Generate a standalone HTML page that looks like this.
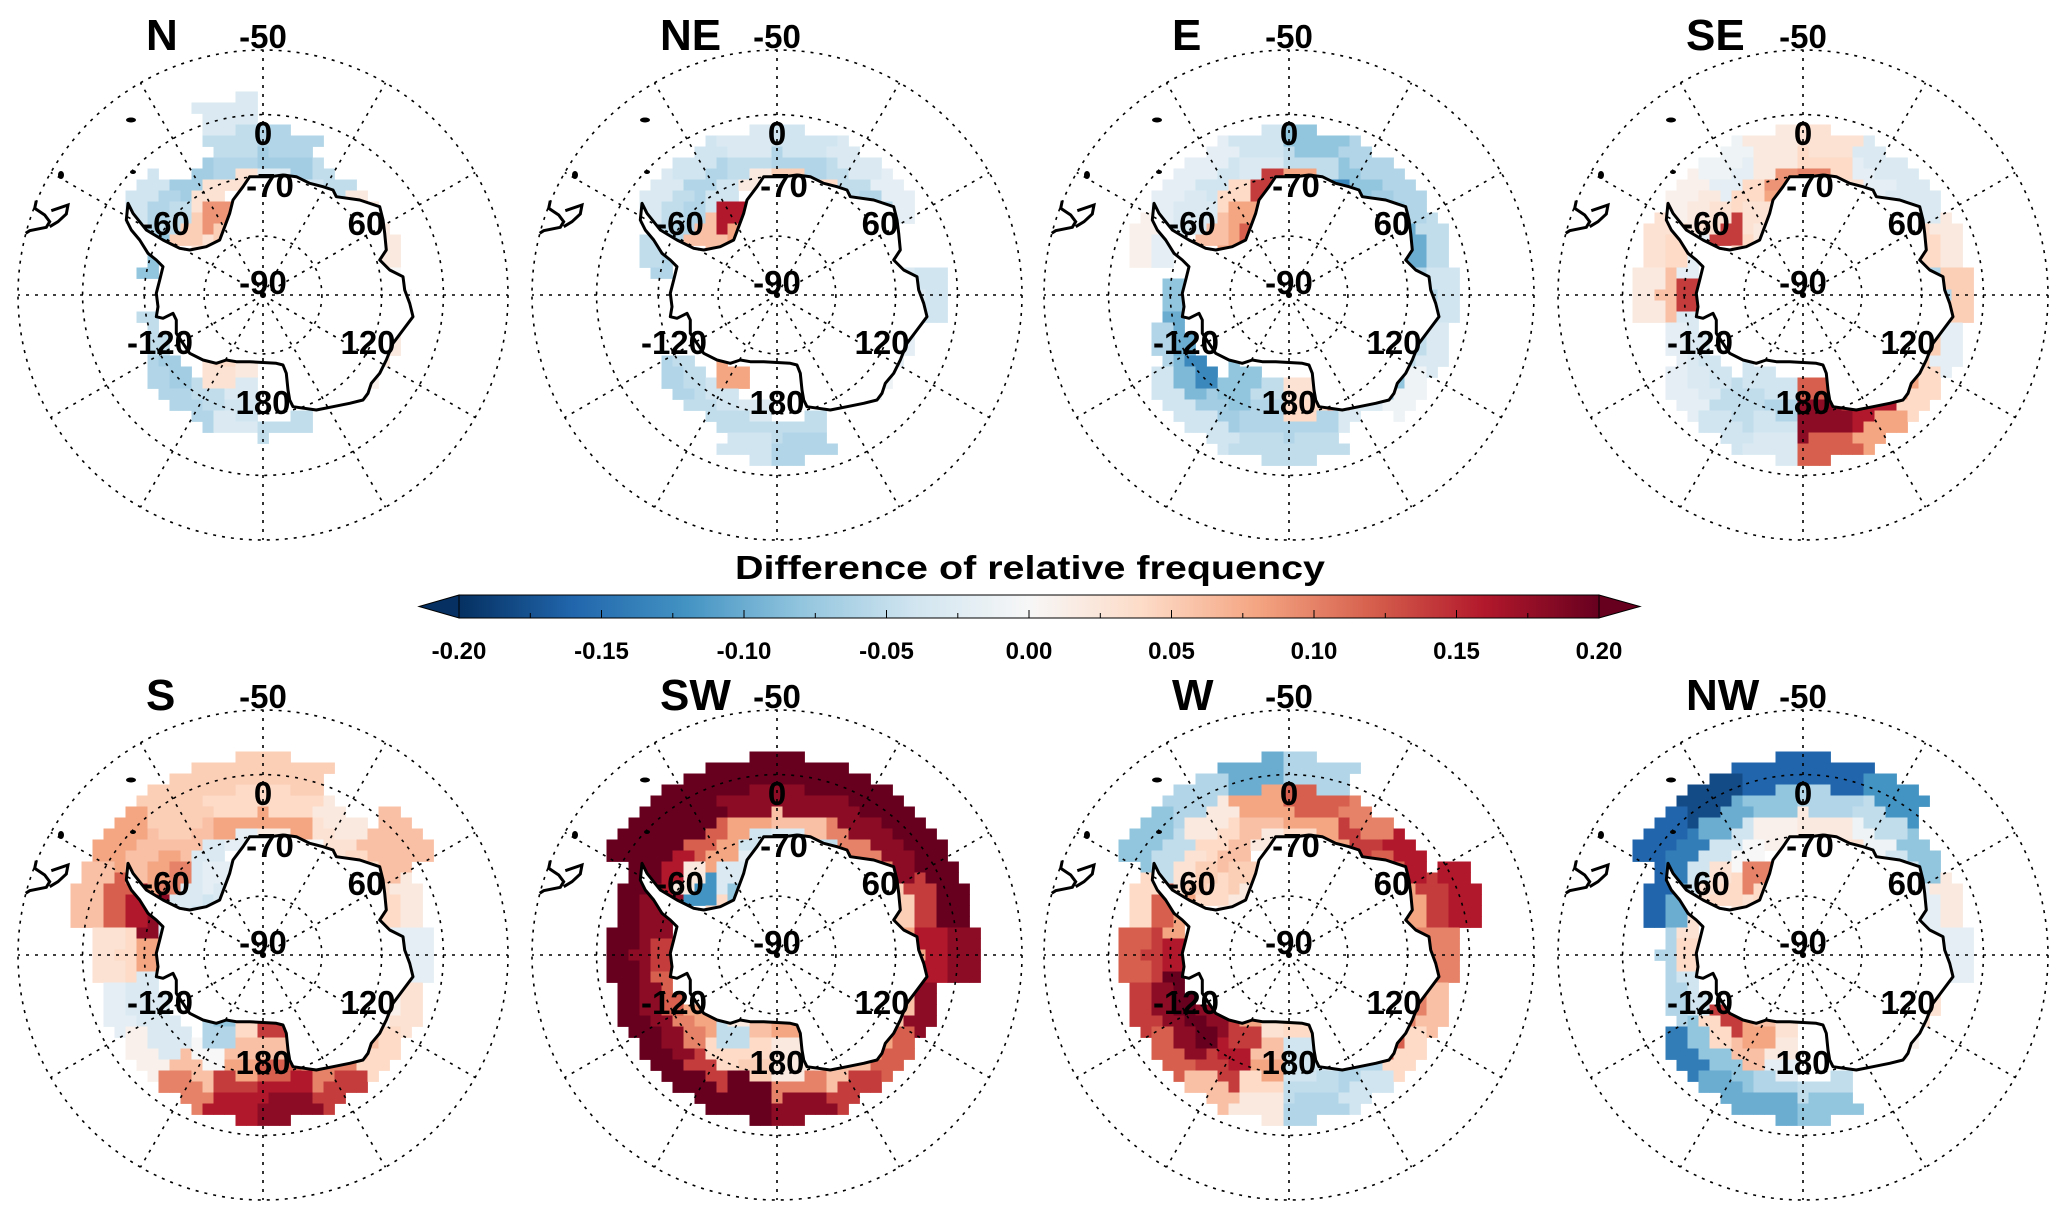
<!DOCTYPE html>
<html><head><meta charset="utf-8"><title>Difference of relative frequency</title>
<style>
html,body{margin:0;padding:0;background:#fff;}
svg{display:block;font-family:"Liberation Sans",Arial,sans-serif;}
</style></head>
<body>
<svg id="fig" width="2067" height="1219" viewBox="0 0 2067 1219" xmlns="http://www.w3.org/2000/svg">
<defs>
<linearGradient id="cbgrad" x1="0" x2="1" y1="0" y2="0">
<stop offset="0" stop-color="#053061"/><stop offset="0.1" stop-color="#2166ac"/><stop offset="0.2" stop-color="#4393c3"/><stop offset="0.3" stop-color="#92c5de"/><stop offset="0.4" stop-color="#d1e5f0"/><stop offset="0.5" stop-color="#f7f7f7"/><stop offset="0.6" stop-color="#fddbc7"/><stop offset="0.7" stop-color="#f4a582"/><stop offset="0.8" stop-color="#d6604d"/><stop offset="0.9" stop-color="#b2182b"/><stop offset="1" stop-color="#67001f"/>
</linearGradient>
</defs>
<g id="panels"></g>
<g id="colorbar">
<text x="1030" y="579" text-anchor="middle" font-size="33" font-weight="bold" textLength="590" lengthAdjust="spacingAndGlyphs">Difference of relative frequency</text>
<polygon points="459,595 419,606.5 459,618" fill="#053061" stroke="#000" stroke-width="1"/>
<polygon points="1599,595 1640,606.5 1599,618" fill="#67001f" stroke="#000" stroke-width="1"/>
<rect x="459" y="595" width="1140" height="23" fill="url(#cbgrad)" stroke="#000" stroke-width="1"/>
<g id="cbticks"></g>
</g>
</svg>
<script>
// ---------- data (values x100, _ = no data) ----------
const _ = null;
const panelTitles = ['N','NE','E','SE','S','SW','W','NW'];
const lonBinCenters = [-170,-150,-130,-110,-90,-70,-50,-30,-10,10,30,50,70,90,110,130,150,170];
const latEdges = [-80,-76,-72,-69,-66,-62,-57];
const cbTickLabels = ['-0.20','-0.15','-0.10','-0.05','0.00','0.05','0.10','0.15','0.20'];
const cbTickValues = [-0.20,-0.15,-0.10,-0.05,0.00,0.05,0.10,0.15,0.20];
const gridLats = [-80,-70,-60,-50];
const gridLons = [0,30,60,90,120,150,180,210,240,270,300,330];

const valsN = [
 [ 2, 4, _, _, _, _, 3, 5, _, _, _, _, _, _, _, _, _, _],
 [-3, 3, _, _, _, _, 5, 9, _, _, _, _, _, _, _, _, _, _],
 [-4,-5,-7,-5, _,-8,-5, 3, 3,-3,-4, 1, _, _, _, _, _, _],
 [-3,-6,-6, _, _, _,-6,-7,-6,-7,-5, 2, 2, 0, 2, 1, _,-5],
 [ _, _, _, _, _, _,-4, _,-5,-6, _, _, _, _, _, _, _, _],
 [ _, _, _, _, _, _, _, _,-3, _, _, _, _, _, _, _, _, _]
];
const valsNE = [
 [ _, _, _, _, _, _, 6, 8, _, _, _, _, _, _, _, _, _, _],
 [ _, 8, _, _, _, _, 6,16, _, _, _, _, _, _, _, _, _, _],
 [-3,-4,-5, _, _,-6,-6,-4, 2, 5, 4,16, _, _, _, _, _, _],
 [-5,-5,-6, _, _,-5,-5,-6,-5,-6,-5,-6, _,-3,-2,-1, _,-5],
 [-4, _, _, _, _, _,-3,-4,-3,-4,-3,-2, _,-4, _, _, _,-6],
 [ _, _, _, _, _, _, _, _, _, _, _, _, _, _, _, _, _, _]
];
const valsE = [
 [ _, _, _, _, _, _, 8,12, _, _, _, _, _, _, _, _, _, _],
 [-5,-8, _, _, _, _, 6, 8,14, _, _, _, _, _, _, _, _, 3],
 [-6,-8,-13,-10,-8, _,-3, 4,14, 8,-13, _, 6,-6,12,-12,10, 4],
 [-6,-7,-9,-6, _,-2,-3,-4,-3,-5,-8,-7,-10,-6,-5,-8,-3,-6],
 [-5,-4,-4, _, _, 1,-2,-2,-4,-8,-6,-6,-5,-4,-3,-1, _,-5],
 [ _, _, _, _, _, _, _, _, _, _, _, _, _, _, _, _, _, _]
];
const valsSE = [
 [ _, _, _, _, _, _, 4, 2, _, _, _, _, _, _, _, _, _, _],
 [-4,-4, _, _, _, _,14, 3, 8, _, _, _, _, _, _, _, _,12],
 [-6,-5,-4,-3,14,-2, 3, 4, 9,10, 3,-8, 8, 3, 5,12,14,18],
 [-4,-5,-3,-2, 6, 4, 2,-2, 2, 4,-2,-3, 4,-6, 5, 8,16,18],
 [-3,-4,-2, _, 2, 3, 1,-1, 2, 3,-3,-3, 2, 5,-2, 4, 8,12],
 [ _, _, _, _, _, _, _, _, _, _, _, _, _, _, _, _, _, _]
];
const valsS = [
 [ 4,-8, _, _, _, _,-4,-3, _, _, _, _, _, _, _, _, _,14],
 [ 6,-6, _, _, 8,-3,-3,-2, _, _, _, _, _, _, _, _,-10, 6],
 [ 8, 0,-3,-3, 8,18,10,-3,-2, 2, 0, 0,-8, 2, 1, 6, 8,12],
 [14, 6,-3,-3, 4,16, 8, 6, 8, 8, 3, 4, 4,-2, 1, 6,10,16],
 [16,10, 1,-2, 3,12, 6, 5, 4, 4, 2, 6, 2,-2, 3, 4,14,18],
 [ _, _, _, _, _, 6, 8, 5, 5, 5, _, 6, _, _, _, _, _, _]
];
const valsSW = [
 [ 6, 2, _, _, _, _, 4,-8, _, _, _, _, _, _, _, _, _, 8],
 [ 4,-5, 8, _, _, _,-12,-3,-2, _, _, _, _, _, _, _,-2, 2],
 [ 5, 4,10,12,14,18, 2, 8,-4,-3,-5, 2, 1,-1,-1, 2, 0, 2],
 [20,14,18,18,18,18,16,12, 8, 6,10,10, 5, 8, 6, 8, 6,10],
 [20,20,20,20,20,20,20,20,18,18,18,18,14,16,18,12,14,18],
 [ _, _, _, _, _, _,20,20,20,20,20,20,20,18, _, _, _, _]
];
const valsW = [
 [ 3, 8, _, _, _, _, 2, 2, _, _, _, _, _, _, _, _, _, 4],
 [ 6,14,18, _, _, _, 4, 5, _, _, _, _, _, _, _, _,-3,-4],
 [ 8,16,20,20,16, 8, 5, 6, 2, 4, 8,10, 6, 4, 6,10,-2,-4],
 [ 4,14,18,18,14,12, 3, 4, 6, 8,14,12, 8,10,10,12,-6,-5],
 [ 2, 6,12,14,12, 4,-5, 2, 8,12,10,16,14,10, 6, 4,-4,-6],
 [ _, _, _, _, _, _,-8,-6,-10,-6, _, _,16, _, _, _, _, _]
];
const valsNW = [
 [ 3, 6, _, _, _, _, 3, 4, _, _, _, _, _, _, _, _, _, _],
 [ 2, 8,14, _, _, _, 4,10, _, _, _, _, _, _, _, _, _, _],
 [-2, 6, 4,-4, 4, 3, 3, 0, 1, 2, 3, 4, 2, _, _, _, _, _],
 [-6,-8,-8,-6,-6,-10,-4,-4, 1, 2,-1,-4,-2,-2, 3, 1, _,-5],
 [-10,-10,-14, _, _,-16,-14,-10,-8,-6,-5,-8, 2,-2, _, _, _,-8],
 [ _, _, _, _, _, _,-16,-18,-16,-16,-12, _, _, _, _, _, _, _]
];
const panelValues = [valsN, valsNE, valsE, valsSE, valsS, valsSW, valsW, valsNW];

// ---------- layout ----------
const NS = 'http://www.w3.org/2000/svg';
const CXS = [263, 777, 1289, 1803], CYS = [295, 955];
const R = 245, CELL = 11;
const D2R = Math.PI / 180, T20 = Math.tan(20 * D2R);
function rOfLat(lat) { return R * Math.tan((90 + lat) / 2 * D2R) / T20; }
function latOfR(r) { return -90 + 2 * Math.atan(r / R * T20) / D2R; }
function proj(lon, lat) { const r = rOfLat(lat); return [r * Math.sin(lon * D2R), -r * Math.cos(lon * D2R)]; }

const stops = ['#053061','#2166ac','#4393c3','#92c5de','#d1e5f0','#f7f7f7','#fddbc7','#f4a582','#d6604d','#b2182b','#67001f'];
function hex(h){return [parseInt(h.substr(1,2),16),parseInt(h.substr(3,2),16),parseInt(h.substr(5,2),16)];}
function colorOf(v) {
  let t = (v + 0.2) / 0.4; t = Math.max(0, Math.min(1, t));
  const p = t * 10, i = Math.min(9, Math.floor(p)), f = p - i;
  const a = hex(stops[i]), b = hex(stops[i + 1]);
  return 'rgb(' + a.map((c, k) => Math.round(c + (b[k] - c) * f)).join(',') + ')';
}

const coastRaw = [[335,490],[330,540],[345,570],[370,600],[395,640],[420,660],[440,680],[430,720],[420,760],[425,800],[420,830],[440,835],[470,820],[480,840],[480,880],[500,910],[520,940],[560,960],[600,970],[630,960],[660,965],[700,965],[780,970],[800,975],[810,1000],[815,1050],[820,1080],[830,1100],[900,1110],[950,1100],[1000,1090],[1040,1080],[1055,1060],[1065,1030],[1090,1000],[1110,960],[1130,910],[1160,870],[1190,830],[1180,790],[1165,750],[1160,710],[1120,690],[1090,660],[1110,630],[1105,580],[1100,540],[1090,500],[1030,480],[960,470],[950,450],[920,440],[880,430],[840,410],[800,405],[760,410],[700,410],[680,440],[650,480],[640,520],[625,560],[610,600],[570,620],[520,630],[490,625],[440,600],[390,570],[350,520]];
const coastPts = coastRaw.map(p => [(p[0] - 740) / 3, (p[1] - 765) / 3]);
const coastD = 'M' + coastPts.map(p => p[0].toFixed(1) + ',' + p[1].toFixed(1)).join(' L') + ' Z';
const samRaw = [[60,482],[55,505],[85,525],[100,545],[90,562],[40,572],[28,580]];
const samRaw2 = [[105,512],[155,495],[150,522],[125,545],[100,560]];
function toD(raw){return 'M'+raw.map(p=>((p[0]-740)/3).toFixed(1)+','+((p[1]-765)/3).toFixed(1)).join(' L');}

const labelSpecs = [
  ['-50', 0, -247], ['0', 0, -150], ['-70', 7, -98], ['-60', -97, -60], ['60', 103, -60],
  ['-90', 0, -1], ['-120', -103, 59], ['120', 105, 59], ['180', 0, 119]
];

const panelsG = document.getElementById('panels');
function mk(tag, attrs, parent) { const e = document.createElementNS(NS, tag); for (const k in attrs) e.setAttribute(k, attrs[k]); parent.appendChild(e); return e; }

panelTitles.forEach((title, pi) => {
  const cx = CXS[pi % 4], cy = CYS[Math.floor(pi / 4)];
  const g = mk('g', { transform: 'translate(' + cx + ',' + cy + ')' }, panelsG);
  
  

  const clip = mk('clipPath', { id: 'ocean' + pi }, g);
  mk('path', { d: 'M-300,-300 H300 V300 H-300 Z ' + coastD, 'clip-rule': 'evenodd' }, clip);

  const cells = mk('g', { 'clip-path': 'url(#ocean' + pi + ')' }, g);
  
  
  const vals = panelValues[pi];
  for (let i = -21; i <= 21; i++) {
    for (let j = -21; j <= 21; j++) {
      const x = i * CELL, y = j * CELL;
      const r = Math.hypot(x, y);
      if (r > R) continue;
      const lat = latOfR(r);
      let ring = -1;
      for (let k = 0; k < latEdges.length - 1; k++) if (lat >= latEdges[k] && lat < latEdges[k + 1]) ring = k;
      if (ring < 0) continue;
      let lon = Math.atan2(x, -y) / D2R;
      let bin = Math.floor((lon + 180) / 20); if (bin > 17) bin = 17; if (bin < 0) bin = 0;
      const v = vals[ring][bin];
      if (v === null) continue;
      const rc = mk('rect', { x: (x - CELL / 2).toFixed(1), y: (y - CELL / 2).toFixed(1), width: CELL + 0.4, height: CELL + 0.4, fill: colorOf(v / 100) }, cells);
      
      
    }
  }

  gridLats.forEach(lat => {
    const c = mk('circle', { cx: 0, cy: 0, r: rOfLat(lat).toFixed(1), fill: 'none', stroke: '#000', 'stroke-width': 1.6, 'stroke-dasharray': '3,6' }, g);
    
    
  });
  gridLons.forEach(lon => {
    const p = proj(lon, -50);
    const l = mk('line', { x1: 0, y1: 0, x2: p[0].toFixed(1), y2: p[1].toFixed(1), stroke: '#000', 'stroke-width': 1.6, 'stroke-dasharray': '3,6' }, g);
    
    
  });

  const cl = mk('path', { d: coastD, fill: 'none', stroke: '#000', 'stroke-width': 3, 'stroke-linejoin': 'round' }, g);
  
  
  const sa = mk('path', { d: toD(samRaw) + ' ' + toD(samRaw2), fill: 'none', stroke: '#000', 'stroke-width': 3 }, g);
  
  
  [[-132, -175, 5, 2.5], [-202, -120, 3, 4], [-130, -123, 3, 2]].forEach(s => {
    const e = mk('ellipse', { cx: s[0], cy: s[1], rx: s[2], ry: s[3], fill: '#000' }, g);
    
    
  });

  labelSpecs.forEach(s => {
    const t = mk('text', { x: s[1], y: s[2], 'text-anchor': 'middle', 'font-size': 33, 'font-weight': 'bold' }, g);
    t.textContent = s[0];
    
    
  });

  const tt = mk('text', { x: -117, y: -245, 'font-size': 44, 'font-weight': 'bold' }, g);
  tt.textContent = title;
  
  
});

const cbG = document.getElementById('cbticks');
const CB_X0 = 459, CB_X1 = 1599;
function cbX(v) { return CB_X0 + (v + 0.2) / 0.4 * (CB_X1 - CB_X0); }
for (let k = 0; k <= 16; k++) {
  const v = -0.2 + k * 0.025;
  const x = cbX(v);
  const ln = mk('line', { x1: x.toFixed(1), y1: 618, x2: x.toFixed(1), y2: k % 2 === 0 ? 610 : 613, stroke: '#000', 'stroke-width': 1 }, cbG);
  
  
}
cbTickValues.forEach((v, i) => {
  const t = mk('text', { x: cbX(v).toFixed(1), y: 659, 'text-anchor': 'middle', 'font-size': 24, 'font-weight': 'bold' }, cbG);
  t.textContent = cbTickLabels[i];
  
  
});
</script>
</body></html>
